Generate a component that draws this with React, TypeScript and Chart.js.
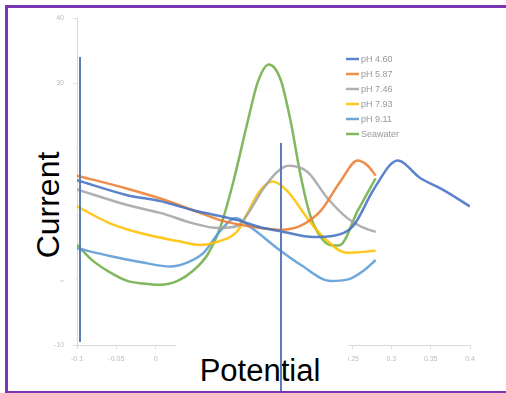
import React, { useEffect, useRef } from "react";
import { Chart, registerables } from "chart.js";

Chart.register(...registerables);

const seriesLabels = ["pH 4.60", "pH 5.87", "pH 7.46", "pH 7.93", "pH 9.11", "Seawater"];
const seriesColors = ["rgba(68,114,196,0.88)", "rgba(237,125,49,0.88)", "rgba(165,165,165,0.88)", "rgba(255,192,0,0.88)", "rgba(91,155,213,0.88)", "rgba(112,173,71,0.88)"];

const ph460X = [-0.1, -0.036, 0.006, 0.048, 0.104, 0.133, 0.159, 0.201, 0.227, 0.252, 0.278, 0.308, 0.337, 0.363, 0.4];
const ph460Y = [15.2, 12.9, 12.0, 10.6, 9.1, 8.0, 7.4, 6.5, 6.7, 8.3, 13.9, 18.2, 15.5, 13.9, 11.2];

const ph587X = [-0.1, -0.036, 0.006, 0.048, 0.082, 0.117, 0.159, 0.184, 0.21, 0.235, 0.257, 0.27, 0.28];
const ph587Y = [15.9, 13.9, 12.4, 10.6, 9.1, 8.2, 7.6, 8.2, 10.5, 15.0, 18.2, 17.4, 15.9];

const ph746X = [-0.1, -0.036, 0.006, 0.048, 0.079, 0.104, 0.117, 0.137, 0.155, 0.169, 0.193, 0.219, 0.244, 0.265, 0.28];
const ph746Y = [13.8, 11.4, 10.2, 8.6, 7.9, 8.2, 10.0, 13.9, 16.5, 17.4, 16.5, 12.4, 9.4, 7.9, 7.3];

const ph793X = [-0.1, -0.058, -0.016, 0.028, 0.057, 0.079, 0.104, 0.117, 0.133, 0.149, 0.168, 0.193, 0.214, 0.244, 0.28];
const ph793Y = [11.2, 8.6, 7.0, 5.9, 5.3, 5.8, 7.4, 10.2, 13.6, 15.0, 13.5, 9.4, 6.4, 4.1, 4.4];

const ph911X = [-0.1, -0.058, -0.016, 0.019, 0.04, 0.061, 0.082, 0.102, 0.121, 0.159, 0.184, 0.223, 0.244, 0.265, 0.28];
const ph911Y = [4.8, 3.6, 2.6, 2.0, 2.6, 4.1, 7.4, 9.4, 8.0, 4.4, 2.3, -0.2, 0.0, 1.4, 3.0];

const seawaterX = [-0.1, -0.08, -0.058, -0.036, -0.016, 0.006, 0.028, 0.048, 0.066, 0.082, 0.099, 0.117, 0.13, 0.144, 0.159, 0.172, 0.184, 0.197, 0.214, 0.227, 0.235, 0.257, 0.28];
const seawaterY = [5.3, 2.9, 1.1, -0.2, -0.6, -0.8, -0.2, 1.4, 3.8, 7.9, 15.0, 24.1, 30.2, 32.9, 30.6, 24.1, 16.2, 9.7, 5.9, 5.2, 5.3, 10.5, 15.5];

const xValues = [ph460X, ph587X, ph746X, ph793X, ph911X, seawaterX];
const yValues = [ph460Y, ph587Y, ph746Y, ph793Y, ph911Y, seawaterY];

const xMin = -0.1;
const xMax = 0.4;
const xStep = 0.05;
const yMin = -10;
const yMax = 40;
const yStep = 10;

const yAxisTitle = "Current";
const xAxisTitle = "Potential";

const legendPlugin = {
  id: "customLegend",
  afterDraw(chart: any) {
    const ctx = chart.ctx;
    ctx.save();
    chart.data.datasets.forEach((ds: any, i: number) => {
      const y = 59 + i * 15;
      ctx.strokeStyle = ds.borderColor;
      ctx.lineWidth = 2.5;
      ctx.beginPath();
      ctx.moveTo(346, y);
      ctx.lineTo(359, y);
      ctx.stroke();
      ctx.fillStyle = "#999999";
      ctx.font = "9px 'Liberation Sans', Arial, sans-serif";
      ctx.textBaseline = "middle";
      ctx.textAlign = "left";
      ctx.fillText(ds.label, 361, y + 0.5);
    });
    ctx.restore();
  },
};

export default function App() {
  const canvasRef = useRef<HTMLCanvasElement | null>(null);

  useEffect(() => {
    if (!canvasRef.current) return;
    const datasets = seriesLabels.map((label, i) => ({
      label,
      data: xValues[i].map((x, j) => ({ x, y: yValues[i][j] })),
      borderColor: seriesColors[i],
      backgroundColor: seriesColors[i],
      borderWidth: 2.5,
      pointRadius: 0,
      fill: false,
      cubicInterpolationMode: "monotone" as const,
    }));
    const chart = new Chart(canvasRef.current, {
      type: "line",
      data: { datasets },
      plugins: [legendPlugin],
      options: {
        animation: false,
        responsive: false,
        layout: { padding: { left: 0, right: 36, top: 18, bottom: 0 } },
        plugins: { legend: { display: false }, tooltip: { enabled: false } },
        scales: {
          x: {
            type: "linear",
            min: xMin,
            max: xMax,
            afterFit: (s: any) => {
              s.height = 48;
            },
            ticks: {
              stepSize: xStep,
              color: "#bdbdbd",
              font: { size: 7, family: "'Liberation Sans', Arial, sans-serif" },
              padding: 6,
              maxRotation: 0,
              callback: (v: any) => String(Number(Number(v).toFixed(2))),
            },
            grid: { drawOnChartArea: false, tickLength: 4, color: "#dddddd" },
            border: { color: "#d9d9d9", width: 1 },
          },
          y: {
            min: yMin,
            max: yMax,
            afterFit: (s: any) => {
              s.width = 77;
            },
            ticks: {
              stepSize: yStep,
              color: "#bdbdbd",
              font: { size: 7, family: "'Liberation Sans', Arial, sans-serif" },
              padding: 9,
            },
            grid: { drawOnChartArea: false, tickLength: 4, color: "#dddddd" },
            border: { color: "#d9d9d9", width: 1 },
          },
        },
      },
    });
    return () => chart.destroy();
  }, []);

  const font = "'Liberation Sans', Arial, sans-serif";

  return (
    <div style={{ position: "fixed", left: 0, top: 0, width: 506, height: 393, background: "#ffffff", overflow: "hidden" }}>
      <canvas ref={canvasRef} width={506} height={393} style={{ position: "absolute", left: 0, top: 0, width: 506, height: 393 }} />
      <div style={{ position: "absolute", left: 28, top: 97, width: 48, height: 183, background: "#ffffff" }} />
      <div
        style={{
          position: "absolute",
          left: 48,
          top: 205,
          transform: "translate(-50%, -50%) rotate(-90deg)",
          fontFamily: font,
          fontSize: 32,
          color: "#000",
          whiteSpace: "nowrap",
          lineHeight: "32px",
        }}
      >
        {yAxisTitle}
      </div>
      <div style={{ position: "absolute", left: 176, top: 337, width: 172, height: 56, background: "#ffffff" }} />
      <div
        style={{
          position: "absolute",
          left: 260,
          top: 370,
          transform: "translate(-50%, -50%)",
          fontFamily: font,
          fontSize: 31,
          color: "#000",
          whiteSpace: "nowrap",
          lineHeight: "31px",
        }}
      >
        {xAxisTitle}
      </div>
      <div style={{ position: "absolute", left: 79, top: 57, width: 2, height: 285, background: "#5b7db8" }} />
      <div style={{ position: "absolute", left: 280, top: 143, width: 2, height: 250, background: "#5b7db8" }} />
      <div style={{ position: "absolute", left: 5, top: 5, width: 520, height: 383, border: "3px solid #7a35b5", boxSizing: "content-box" }} />
    </div>
  );
}
